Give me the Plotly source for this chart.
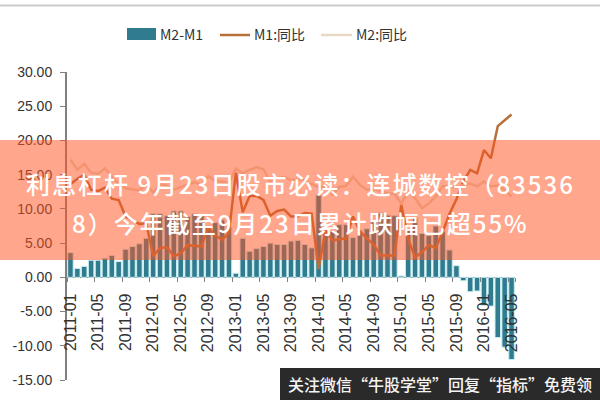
import plotly.graph_objects as go

# monthly categories 2011-01 .. 2016-05
months = [f"{y}-{m:02d}" for y in range(2011, 2017) for m in range(1, 13)][:65]

spread = [3.6, 1.3, 1.6, 2.5, 2.5, 2.8, 3.2, 2.3, 4.1, 4.5, 4.9, 5.7,
          9.3, 9.3, 9.0, 9.7, 9.7, 8.9, 9.3, 9.0, 7.5, 8.0, 8.4, 7.3,
          0.6, 5.7, 3.8, 4.2, 4.5, 5.0, 4.8, 4.8, 5.3, 5.4, 4.8, 4.3,
          12.0, 6.4, 6.7, 7.7, 7.7, 5.8, 6.8, 7.1, 8.1, 9.4, 9.1, 9.0,
          0.2, 6.9, 8.7, 6.4, 6.1, 7.5, 6.7, 4.0, 1.7, -0.5, -2.1, -2.0,
          -4.1, -4.2, -8.8, -10.2, -12.0]
m1 = [13.6, 14.4, 15.0, 12.8, 12.6, 13.1, 11.5, 11.3, 8.9, 8.4, 7.8, 7.9,
      3.1, 4.3, 4.4, 3.1, 3.5, 4.7, 4.6, 4.5, 7.3, 6.1, 5.5, 6.5,
      15.3, 9.5, 11.9, 11.9, 11.3, 9.0, 9.7, 9.9, 8.9, 8.9, 9.4, 9.3,
      1.2, 6.9, 5.4, 5.5, 5.7, 8.9, 6.7, 5.7, 4.8, 3.2, 3.2, 3.2,
      10.6, 5.6, 2.9, 3.7, 4.7, 4.3, 6.6, 9.3, 11.4, 14.0, 15.7, 15.2,
      18.6, 17.4, 22.1, 22.9, 23.8]
m2 = [17.2, 15.7, 16.6, 15.3, 15.1, 15.9, 14.7, 13.6, 13.0, 12.9, 12.7, 13.6,
      12.4, 13.6, 13.4, 12.8, 13.2, 13.6, 13.9, 13.5, 14.8, 14.1, 13.9, 13.8,
      15.9, 15.2, 15.7, 16.1, 15.8, 14.0, 14.5, 14.7, 14.2, 14.3, 14.2, 13.6,
      13.2, 13.3, 12.1, 13.2, 13.4, 14.7, 13.5, 12.8, 12.9, 12.6, 12.3, 12.2,
      10.8, 12.5, 11.6, 10.1, 10.8, 11.8, 13.3, 13.3, 13.1, 13.5, 13.7, 13.3,
      14.0, 13.3, 13.4, 12.8, 11.8]

y_ticks = [30, 25, 20, 15, 10, 5, 0, -5, -10, -15]
y_labels = ["30.00", "25.00", "20.00", "15.00", "10.00", "5.00", "0.00", "-5.00", "-10.00", "-15.00"]
x_ticks = months[::4]

title_1 = "利息杠杆 9月23日股市必读：连城数控（83536"
title_2 = "8）今年截至9月23日累计跌幅已超55%"
footer = "关注微信“牛股学堂”回复“指标”免费领"
legend_names = ["M2-M1", "M1:同比", "M2:同比"]

CJK = "Noto Sans CJK SC"
LATIN = "Liberation Sans"
BAR_COLOR = "#317b8f"
M1_COLOR = "#b8703a"
M2_COLOR = "#e8d8c4"

L, R, T, B = 67, 85, 72, 20
W, H = 600, 400


def px(x):
    return (x - L) / (W - L - R)


def py(y):
    return (H - y - B) / (H - T - B)


fig = go.Figure()
fig.add_trace(go.Bar(x=months, y=spread, name=legend_names[0],
                     marker=dict(color=BAR_COLOR, line=dict(color="#c8eef3", width=1))))
fig.add_trace(go.Scatter(x=months, y=m1, name=legend_names[1], mode="lines",
                         line=dict(color=M1_COLOR, width=2.5)))
fig.add_trace(go.Scatter(x=months, y=m2, name=legend_names[2], mode="lines",
                         line=dict(color=M2_COLOR, width=2.5)))

fig.update_layout(
    width=W, height=H,
    margin=dict(l=L, r=R, t=T, b=B, pad=0),
    paper_bgcolor="white", plot_bgcolor="white",
    bargap=0.2,
    showlegend=False,
    font=dict(family=LATIN, color="#333333"),
)
fig.update_xaxes(type="category", categoryorder="array", categoryarray=months,
                 range=[-0.5, 64.5], anchor="free", position=1/3,
                 tickmode="array", tickvals=x_ticks, ticktext=x_ticks, tickson="boundaries",
                 tickangle=-90, ticks="outside", ticklen=4, tickcolor="#808080",
                 tickfont=dict(family=LATIN, size=16, color="#333333"),
                 ticklabelstandoff=12,
                 showgrid=False, zeroline=False, showline=False)
fig.update_yaxes(range=[-15, 30], tickmode="array", tickvals=y_ticks, ticktext=y_labels,
                 ticks="outside", ticklen=5, tickcolor="#808080",
                 tickfont=dict(family=LATIN, size=14, color="#333333"),
                 ticklabelstandoff=5,
                 showgrid=False, zeroline=True, zerolinecolor="#808080", zerolinewidth=1,
                 showline=True, linecolor="#808080", linewidth=2)

# legend by hand: the wide bar swatch can't be had from the built-in one
fig.add_shape(type="rect", xref="paper", yref="paper", x0=px(127), x1=px(156), y0=py(40), y1=py(28),
              fillcolor=BAR_COLOR, line_width=0)
fig.add_shape(type="line", xref="paper", yref="paper", x0=px(220), x1=px(250), y0=py(35), y1=py(35),
              line=dict(color=M1_COLOR, width=2.5))
fig.add_shape(type="line", xref="paper", yref="paper", x0=px(321), x1=px(352), y0=py(35), y1=py(35),
              line=dict(color=M2_COLOR, width=2.5))
for name, left in zip(legend_names, [158, 252, 354]):
    fig.add_annotation(text=name, xref="paper", yref="paper", x=px(left), y=py(34),
                       showarrow=False, xanchor="left", yanchor="middle",
                       font=dict(family=CJK, size=14, color="#333333"))

# grey rule at the top, salmon banner, dark footer strip
fig.add_shape(type="rect", xref="paper", yref="paper", x0=px(0), x1=px(W), y0=py(6.5), y1=py(4.5),
              fillcolor="#cccccc", line_width=0, layer="above")
fig.add_shape(type="rect", xref="paper", yref="paper", x0=px(0), x1=px(W), y0=py(260), y1=py(140),
              fillcolor="rgba(255,84,34,0.52)", line_width=0, layer="above")
fig.add_shape(type="rect", xref="paper", yref="paper", x0=px(280), x1=px(W), y0=py(H), y1=py(368),
              fillcolor="#2a2a2a", line_width=0, layer="above")

fig.add_annotation(text=title_1, xref="paper", yref="paper", x=px(300), y=py(183),
                   showarrow=False, xanchor="center", yanchor="middle",
                   font=dict(family=CJK, size=24, color="white", weight=500))
fig.add_annotation(text=title_2, xref="paper", yref="paper", x=px(300), y=py(222),
                   showarrow=False, xanchor="center", yanchor="middle",
                   font=dict(family=CJK, size=24, color="white", weight=500))
fig.add_annotation(text=footer, xref="paper", yref="paper", x=px(440), y=py(384),
                   showarrow=False, xanchor="center", yanchor="middle",
                   font=dict(family=CJK, size=16, color="#f4f4f4", weight=500))

# page margin off; banner text in the source has a little tracking
page_js = """
document.body.style.margin = '0';
document.querySelectorAll('.annotation-text').forEach(function(t){
  if (t.textContent.indexOf('杠杆') >= 0 || t.textContent.indexOf('跌幅') >= 0) t.style.letterSpacing = '2px';
});
"""
fig.write_html("out.html", post_script=page_js, config={"displayModeBar": False})
